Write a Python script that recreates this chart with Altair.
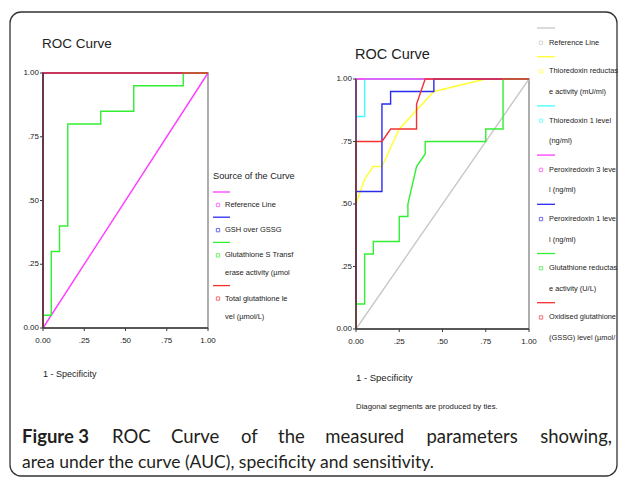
import altair as alt
import pandas as pd

W, H = 613, 470
SANS = "Liberation Sans, Arial, sans-serif"
CAP_FONT = "Lato"
AX = "#3a3a3a"

# ---------------- data ----------------
tick_values = [0, 0.25, 0.5, 0.75, 1.0]
tick_labels = ["0.00", ".25", ".50", ".75", "1.00"]

panel_title = "ROC Curve"
x_title = "1 - Specificity"
legend_title = "Source of the Curve"
footnote = "Diagonal segments are produced by ties."

left_names = ["Reference Line", "GSH over GSSG",
              "Glutathione S Transferase activity", "Total glutathione level"]
left_colors = ["#ff3cff", "#2a2af0", "#33ee33", "#f23232"]
left_fpr = [
    [0, 1],
    [0, 0, 1],
    [0, 0, 0.05, 0.05, 0.10, 0.10, 0.15, 0.15, 0.35, 0.35, 0.55, 0.55, 0.85, 0.85, 1],
    [0, 0, 1],
]
left_tpr = [
    [0, 1],
    [0, 1, 1],
    [0, 0.05, 0.05, 0.30, 0.30, 0.40, 0.40, 0.80, 0.80, 0.85, 0.85, 0.95, 0.95, 1, 1],
    [0, 1, 1],
]
left_legend = [["Reference Line"], ["GSH over GSSG"],
               ["Glutathione S Transf", "erase activity (\u00b5mol"],
               ["Total glutathione le", "vel (\u00b5mol/L)"]]

right_names = ["Reference Line", "Thioredoxin reductase activity", "Thioredoxin 1 level",
               "Peroxiredoxin 3 level", "Peroxiredoxin 1 level",
               "Glutathione reductase activity", "Oxidised glutathione (GSSG) level"]
right_colors = ["#c8c8c8", "#ffff30", "#40ffff", "#ff3cff", "#2a2af0", "#33ee33", "#f23232"]
right_fpr = [
    [0, 1],
    [0, 0, 0.05, 0.10, 0.15, 0.25, 0.45, 0.75, 1],
    [0, 0, 0.05, 0.05, 1],
    [0, 0, 1],
    [0, 0, 0.15, 0.15, 0.20, 0.20, 0.45, 0.45, 1],
    [0, 0, 0.05, 0.05, 0.10, 0.10, 0.25, 0.25, 0.30, 0.30, 0.35, 0.40, 0.40, 0.75, 0.75, 0.85, 0.85, 1],
    [0, 0, 0.15, 0.20, 0.35, 0.35, 0.40, 1],
]
right_tpr = [
    [0, 1],
    [0, 0.50, 0.60, 0.65, 0.65, 0.80, 0.95, 1, 1],
    [0, 0.85, 0.85, 1, 1],
    [0, 1, 1],
    [0, 0.55, 0.55, 0.90, 0.90, 0.95, 0.95, 1, 1],
    [0, 0.10, 0.10, 0.30, 0.30, 0.35, 0.35, 0.45, 0.45, 0.50, 0.65, 0.70, 0.75, 0.75, 0.80, 0.80, 1, 1],
    [0, 0.75, 0.75, 0.80, 0.80, 0.90, 1, 1],
]
right_legend = [["Reference Line"],
                ["Thioredoxin reductas", "e activity (mU/ml)"],
                ["Thioredoxin 1 level", "(ng/ml)"],
                ["Peroxiredoxin 3 leve", "l (ng/ml)"],
                ["Peroxiredoxin 1 leve", "l (ng/ml)"],
                ["Glutathione reductas", "e activity (U/L)"],
                ["Oxidised glutathione", "(GSSG) level (\u00b5mol/"]]

caption_line1 = [("Figure 3", True), ("ROC", False), ("Curve", False), ("of", False),
                 ("the", False), ("measured", False), ("parameters", False), ("showing,", False)]
caption_line2 = "area under the curve (AUC), specificity and sensitivity."

# ---------------- helpers ----------------
one = alt.Data(values=[{}])


def label(txt, x, y, fs, font=SANS, weight="normal", align="left", color="#222222"):
    return alt.Chart(one).mark_text(text=txt, align=align, baseline="middle", font=font,
                                    fontSize=fs, fontWeight=weight, color=color).encode(
        x=alt.value(x), y=alt.value(y))


def panel(fprs, tprs, colors, xr, yr):
    xs = alt.Scale(domain=[0, 1], range=xr, nice=False, zero=False)
    ys = alt.Scale(domain=[0, 1], range=yr, nice=False, zero=False)

    def X(f):
        return alt.X(f, scale=xs, axis=None)

    def Y(f):
        return alt.Y(f, scale=ys, axis=None)

    box_df = pd.DataFrame({"a": [0], "b": [1], "z": [0]})
    frame = alt.Chart(box_df).mark_rect(fillOpacity=0, stroke="#9a9a9a", strokeWidth=1.6).encode(
        x=X("a:Q"), x2="b:Q", y=Y("a:Q"), y2="b:Q")
    layers = [frame]
    for f, t, c in zip(fprs, tprs, colors):
        df = pd.DataFrame({"fpr": f, "tpr": t, "i": list(range(len(f)))})
        layers.append(
            alt.Chart(df).mark_line(color=c, strokeWidth=1.4).encode(
                x=X("fpr:Q"), y=Y("tpr:Q"), order=alt.Order("i:Q")))
    # hand-built axes
    tdf = pd.DataFrame({"v": tick_values, "lab": tick_labels})
    layers += [
        alt.Chart(box_df).mark_rule(color=AX, strokeWidth=1.3).encode(
            x=X("a:Q"), x2="b:Q", y=Y("z:Q")),
        alt.Chart(box_df).mark_rule(color=AX, strokeWidth=1.3).encode(
            x=X("z:Q"), y=Y("a:Q"), y2="b:Q"),
        alt.Chart(tdf).mark_rule(color=AX, strokeWidth=1).encode(
            x=X("v:Q"), y=alt.value(yr[0]), y2=alt.value(yr[0] + 3)),
        alt.Chart(tdf).mark_rule(color=AX, strokeWidth=1).encode(
            y=Y("v:Q"), x=alt.value(xr[0] - 3), x2=alt.value(xr[0])),
        alt.Chart(tdf).mark_text(align="center", baseline="middle", font=SANS, fontSize=8,
                                 color="#222222").encode(
            x=X("v:Q"), y=alt.value(yr[0] + 13), text="lab:N"),
        alt.Chart(tdf).mark_text(align="right", baseline="middle", font=SANS, fontSize=8,
                                 color="#222222").encode(
            y=Y("v:Q"), x=alt.value(xr[0] - 4), text="lab:N"),
    ]
    return alt.layer(*layers)


def legend(entries, names, colors, x_line, x_mark, x_text, y0, unit, fs):
    rows_line, rows_text = [], []
    u = 0.0
    for lines, n in zip(entries, names):
        rows_line.append({"u": u, "m": u + 0.72, "name": n})
        for k, t in enumerate(lines):
            rows_text.append({"u": u + 0.72 + k, "t": t})
        u += 0.72 + (len(lines) - 1) + 0.68
    ys = alt.Scale(domain=[0, 1], range=[y0, y0 + unit], nice=False, zero=False)
    cs = alt.Scale(domain=names, range=colors)
    ldf = pd.DataFrame(rows_line)
    tdf = pd.DataFrame(rows_text)
    rules = alt.Chart(ldf).mark_rule(strokeWidth=1.3).encode(
        x=alt.value(x_line[0]), x2=alt.value(x_line[1]),
        y=alt.Y("u:Q", scale=ys, axis=None),
        color=alt.Color("name:N", scale=cs, legend=None))
    marks = alt.Chart(ldf).mark_square(size=11, filled=False, strokeWidth=1).encode(
        x=alt.value(x_mark), y=alt.Y("m:Q", scale=ys, axis=None),
        color=alt.Color("name:N", scale=cs, legend=None))
    texts = alt.Chart(tdf).mark_text(align="left", baseline="middle", font=SANS,
                                      fontSize=fs, color="#222222").encode(
        x=alt.value(x_text), y=alt.Y("u:Q", scale=ys, axis=None), text="t:N")
    return alt.layer(rules, marks, texts)


# Lato approximate advance widths (em), used to justify the first caption line
LATO = {' ': 0.2, 'a': 0.51, 'b': 0.57, 'c': 0.47, 'd': 0.57, 'e': 0.53, 'f': 0.33, 'g': 0.51,
        'h': 0.57, 'i': 0.24, 'l': 0.24, 'm': 0.86, 'n': 0.57, 'o': 0.57, 'p': 0.57, 'r': 0.37,
        's': 0.43, 't': 0.35, 'u': 0.57, 'v': 0.52, 'w': 0.8, 'y': 0.52, ',': 0.21, '.': 0.21,
        '(': 0.31, ')': 0.31, 'R': 0.63, 'O': 0.77, 'C': 0.69, 'A': 0.71, 'U': 0.71, 'F': 0.56,
        '3': 0.57}


def est(word, fs, bold):
    return sum(LATO.get(ch, 0.5) for ch in word) * fs * (1.06 if bold else 1.0)


CAP_FS1, CAP_FS2 = 18.5, 17.5
cap_left, cap_right = 14, 604
cap_y1, cap_y2 = 429, 455
widths = [est(w, CAP_FS1, b) for w, b in caption_line1]
gap = (cap_right - cap_left - sum(widths)) / (len(widths) - 1)
caption_layers = []
xpos = cap_left
for idx, ((w, b), wd) in enumerate(zip(caption_line1, widths)):
    if idx == len(widths) - 1:
        caption_layers.append(label(w, cap_right, cap_y1, CAP_FS1, CAP_FONT, "normal", "right", "#231f20"))
    else:
        caption_layers.append(label(w, xpos, cap_y1, CAP_FS1, CAP_FONT, "bold" if b else "normal",
                                    "left", "#231f20"))
    xpos += wd + gap
caption_layers.append(label(caption_line2, cap_left, cap_y2, CAP_FS2, CAP_FONT, "normal", "left", "#231f20"))

box = alt.Chart(one).mark_rect(fillOpacity=0, stroke="#333333", strokeWidth=1.3,
                               cornerRadius=11).encode(
    x=alt.value(2), x2=alt.value(609), y=alt.value(4), y2=alt.value(468))

left_panel = panel(left_fpr, left_tpr, left_colors, [35, 200], [320, 65])
right_panel = panel(right_fpr, right_tpr, right_colors, [348, 521], [321, 71])
left_leg = legend(left_legend, left_names, left_colors, (205, 222), 210, 217, 184, 18, 7.5)
right_leg = legend(right_legend, right_names, right_colors, (529, 547), 533, 541, 20, 20.5, 7.4)

chart = alt.layer(
    box, left_panel, right_panel, left_leg, right_leg,
    label(panel_title, 34, 36, 13.5), label(panel_title, 347, 47, 14.5),
    label(legend_title, 205, 168, 9.2),
    label(x_title, 35, 366, 9), label(x_title, 348, 370, 9.5),
    label(footnote, 348, 399, 7.8),
    *caption_layers,
).resolve_scale(
    x="independent", y="independent", color="independent"
).properties(
    width=W, height=H, autosize=alt.AutoSizeParams(type="none"), padding=0
).configure_view(
    strokeWidth=0
)

chart.save("out.html", embed_options={"renderer": "svg", "actions": False})
